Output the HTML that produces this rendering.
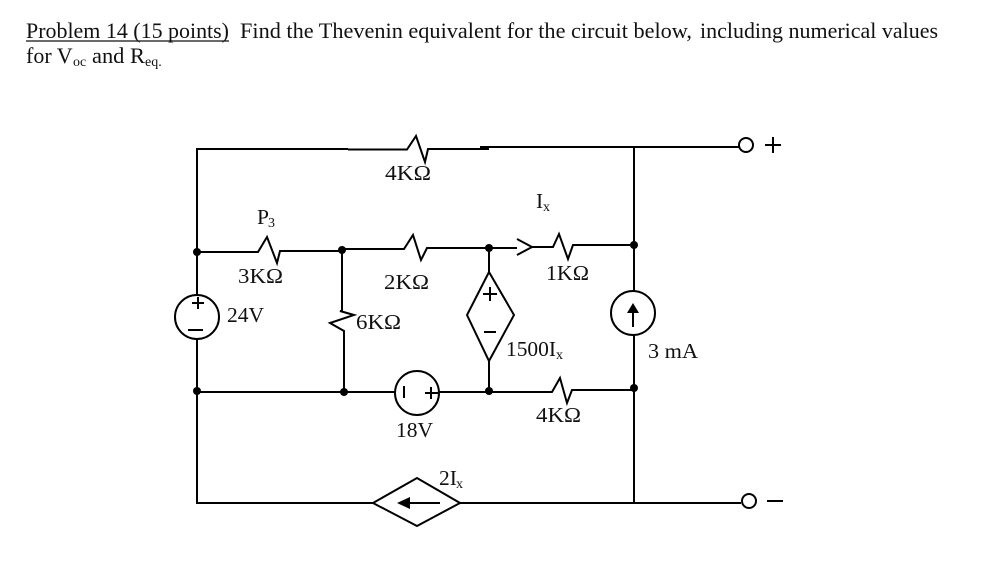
<!DOCTYPE html>
<html><head><meta charset="utf-8"><style>
html,body{margin:0;padding:0;background:#fff;width:989px;height:586px;overflow:hidden}
svg{display:block}
text{font-family:"Liberation Serif",serif;fill:#111;font-size:21.5px}
.t{font-size:22px}
.s{font-size:14px}
.w{fill:none;stroke:#000;stroke-width:2;stroke-linejoin:miter}
</style></head><body>
<svg width="989" height="586" viewBox="0 0 989 586" xmlns="http://www.w3.org/2000/svg">
<!-- title -->
<text class="t" x="26" y="38" textLength="203" lengthAdjust="spacingAndGlyphs">Problem 14 (15 points)</text>
<line x1="26" y1="41" x2="229" y2="41" stroke="#111" stroke-width="1.2"/>
<text class="t" x="240" y="38" textLength="452" lengthAdjust="spacingAndGlyphs">Find the Thevenin equivalent for the circuit below,</text>
<text class="t" x="700" y="38" textLength="238" lengthAdjust="spacingAndGlyphs">including numerical values</text>
<text class="t" x="26" y="63">for V</text><text class="s" x="73" y="66">oc</text>
<text class="t" x="92" y="63" textLength="53" lengthAdjust="spacingAndGlyphs">and R</text><text class="s" x="145" y="66">eq.</text>
<!-- wires -->
<path class="w" d="M197 252V149H348"/>
<path class="w" d="M348 149.500H407L416 136L425 162L428 149H489"/>
<path class="w" d="M480 147H739"/>
<path class="w" d="M197 252H258L267 237L277 263L280 251H342"/>
<path class="w" d="M342 249H404L413 235L421 260L427 248H489H517M517 239L532 247L517 255M532 247H553L559 234L568 259L573 245H634"/>
<path class="w" d="M342 249V311L340 311L354 315L330 323L344 331V392"/>
<path class="w" d="M197 252V295M197 339V391"/>
<path class="w" d="M634 147V291M634 336V503"/>
<path class="w" d="M197 392H395M439 392H489H552L560 378L567 403L572 390H634"/>
<path class="w" d="M489 248V272M489 361V391"/>
<path class="w" d="M197 391V503H373M460 503H741"/>
<!-- sources -->
<circle class="w" cx="197" cy="317" r="22" fill="#fff"/>
<path class="w" d="M192 303H204M198 297V309M188 330H203"/>
<circle class="w" cx="417" cy="393" r="22"/>
<path class="w" d="M404 386V398M425 393H438M431 387V399"/>
<circle class="w" cx="633" cy="313" r="22"/>
<path class="w" d="M633 312V327"/>
<path d="M633 303L627 313H639Z" fill="#000"/>
<path class="w" d="M489 272L514 315L489 361L467 315Z"/>
<path class="w" d="M483 294H497M490 287V301M484 332H496"/>
<path class="w" d="M373 503L417 478L460 503L417 526Z"/>
<path class="w" d="M408 503H440"/>
<path d="M397 503L410 497V509Z" fill="#000"/>
<!-- dots -->
<g fill="#000">
<circle cx="197" cy="252" r="4"/><circle cx="342" cy="250" r="4"/><circle cx="489" cy="248" r="4"/>
<circle cx="634" cy="245" r="4"/><circle cx="197" cy="391" r="4"/><circle cx="344" cy="392" r="4"/>
<circle cx="489" cy="391" r="4"/><circle cx="634" cy="388" r="4"/>
</g>
<!-- terminals -->
<circle cx="746" cy="145" r="7" fill="#fff" stroke="#000" stroke-width="2"/>
<path class="w" d="M765 145H781M773 137V153"/>
<circle cx="749" cy="501" r="7" fill="#fff" stroke="#000" stroke-width="2"/>
<path class="w" d="M767 501H783"/>
<!-- labels -->
<text x="385" y="180" textLength="46" lengthAdjust="spacingAndGlyphs">4KΩ</text>
<text x="257" y="224">P</text><text class="s" x="268" y="227">3</text>
<text x="238" y="283" textLength="45" lengthAdjust="spacingAndGlyphs">3KΩ</text>
<text x="384" y="289" textLength="45" lengthAdjust="spacingAndGlyphs">2KΩ</text>
<text x="227" y="322">24V</text>
<text x="356" y="329" textLength="45" lengthAdjust="spacingAndGlyphs">6KΩ</text>
<text x="396" y="437">18V</text>
<text x="439" y="485">2I</text><text class="s" x="456" y="488">x</text>
<text x="536" y="208">I</text><text class="s" x="543" y="211">x</text>
<text x="546" y="280" textLength="43" lengthAdjust="spacingAndGlyphs">1KΩ</text>
<text x="506" y="356" textLength="50" lengthAdjust="spacingAndGlyphs">1500I</text><text class="s" x="556" y="359">x</text>
<text x="648" y="358" textLength="50" lengthAdjust="spacingAndGlyphs">3 mA</text>
<text x="536" y="422" textLength="45" lengthAdjust="spacingAndGlyphs">4KΩ</text>
</svg>
</body></html>
